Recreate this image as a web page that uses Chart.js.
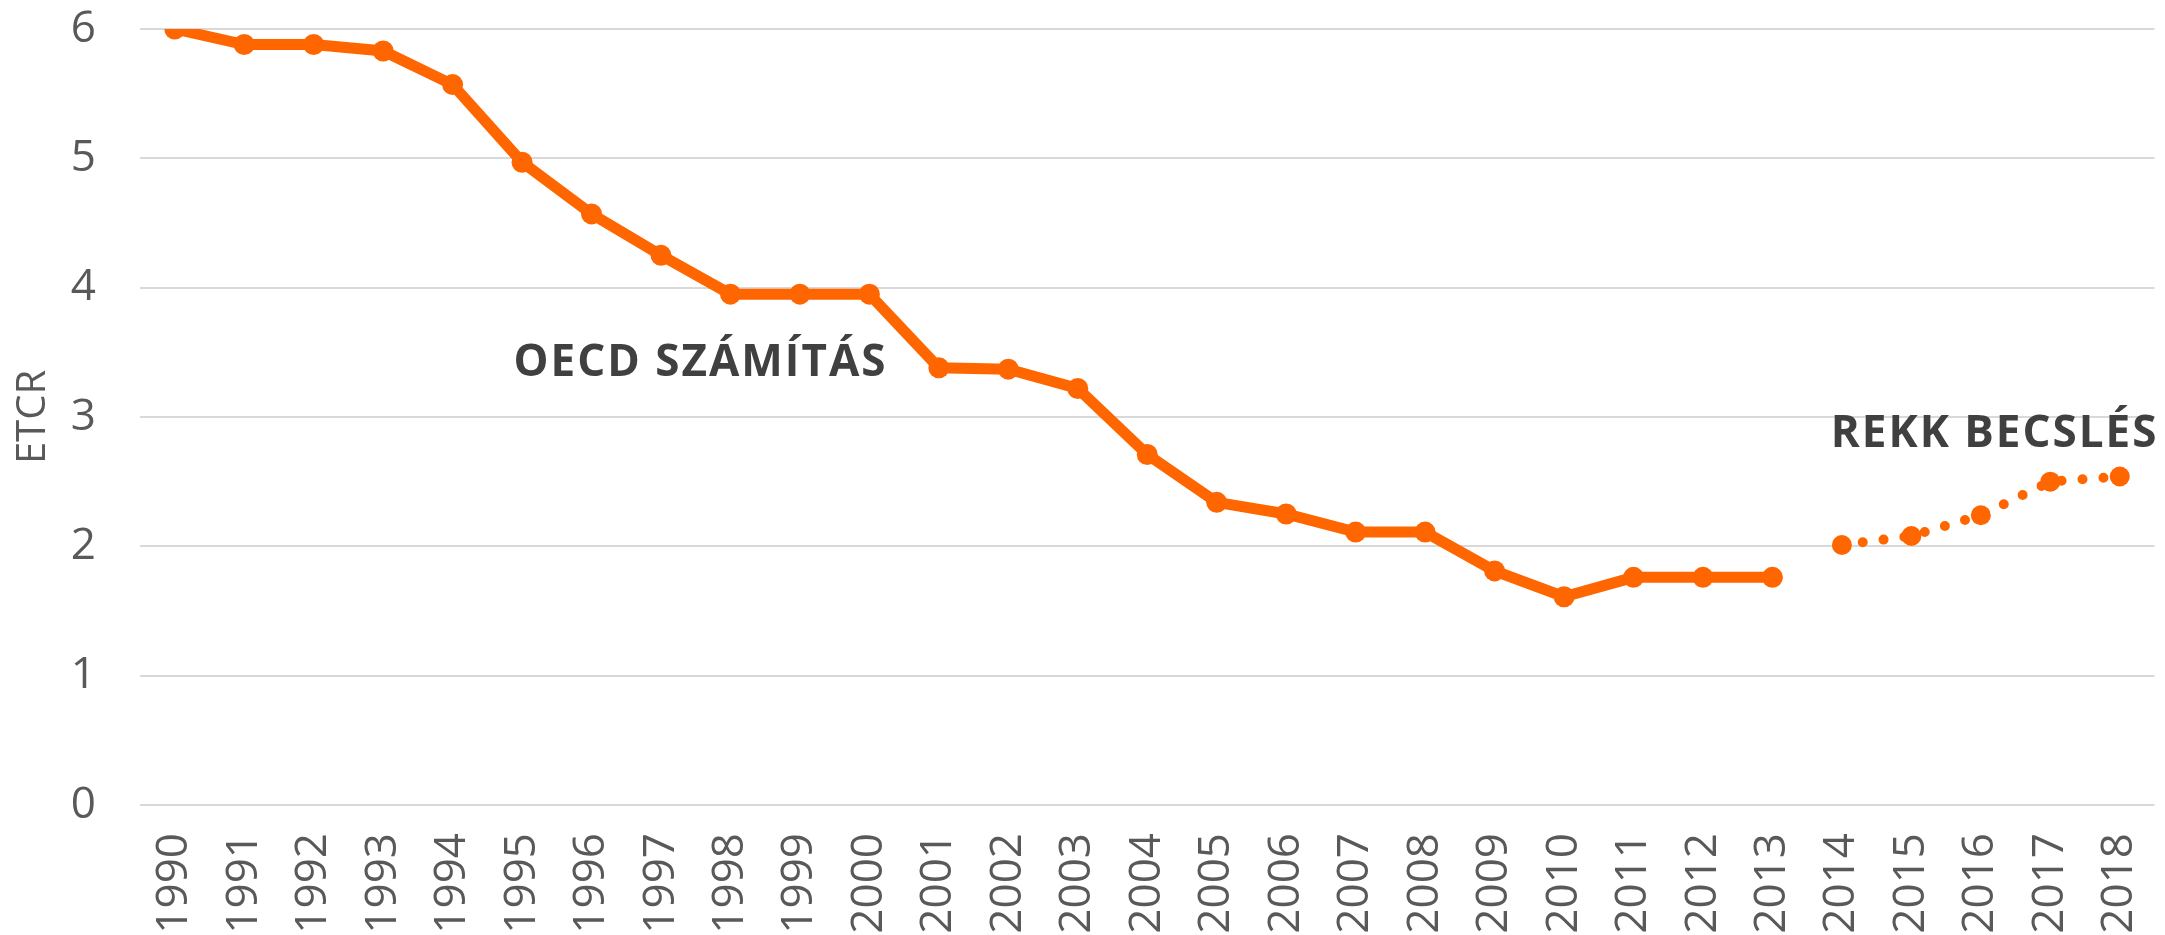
<!DOCTYPE html>
<html lang="hu">
<head>
    <meta charset="utf-8">
    <title>ETCR</title>
    <script src="https://cdn.jsdelivr.net/npm/chart.js"></script>
    <style>
        html, body { margin: 0; padding: 0; background: #fff; }
        .chart-container { position: relative; width: 2165px; height: 935px; }
    </style>
</head>
<body>
    <div class="chart-container">
        <canvas id="etcrChart"></canvas>
    </div>
    <script>
        // évek
        const years = ['1990', '1991', '1992', '1993', '1994', '1995', '1996', '1997', '1998', '1999',
            '2000', '2001', '2002', '2003', '2004', '2005', '2006', '2007', '2008', '2009',
            '2010', '2011', '2012', '2013', '2014', '2015', '2016', '2017', '2018'];
        // OECD számítás 1990-2013
        const oecdValues = [6.00, 5.88, 5.88, 5.83, 5.57, 4.97, 4.57, 4.25, 3.95, 3.95,
            3.95, 3.38, 3.37, 3.22, 2.71, 2.34, 2.25, 2.11, 2.11, 1.81,
            1.61, 1.76, 1.76, 1.76, null, null, null, null, null];
        // REKK becslés 2014-2018
        const rekkValues = [null, null, null, null, null, null, null, null, null, null,
            null, null, null, null, null, null, null, null, null, null,
            null, null, null, null, 2.01, 2.08, 2.24, 2.50, 2.54];
        const yTicks = [0, 1, 2, 3, 4, 5, 6];

        const orange = '#ff6600';
        const grey = '#595959';

        // feliratok a diagramon
        const labelPlugin = {
            id: 'labels',
            afterDatasetsDraw(chart) {
                const ctx = chart.ctx;
                const x = chart.scales.x;
                const y = chart.scales.y;
                ctx.save();
                ctx.fillStyle = '#404040';
                ctx.font = 'bold 44px "Open Sans"';
                ctx.letterSpacing = '2px';
                ctx.textBaseline = 'alphabetic';
                ctx.textAlign = 'left';
                ctx.fillText('OECD SZÁMÍTÁS', x.getPixelForValue(4) + 61, y.getPixelForValue(3.317));
                ctx.textAlign = 'right';
                ctx.fillText('REKK BECSLÉS', chart.chartArea.right + 4, y.getPixelForValue(2.77));
                ctx.restore();
            }
        };

        new Chart(document.getElementById('etcrChart'), {
            type: 'line',
            data: {
                labels: years,
                datasets: [{
                    label: 'OECD számítás',
                    data: oecdValues,
                    borderColor: orange,
                    backgroundColor: orange,
                    borderWidth: 11,
                    pointRadius: 10.5,
                    pointBorderWidth: 0,
                    tension: 0
                }, {
                    label: 'REKK becslés',
                    data: rekkValues,
                    borderColor: orange,
                    backgroundColor: orange,
                    borderWidth: 10,
                    borderDash: [0, 21],
                    borderCapStyle: 'round',
                    pointRadius: 10,
                    pointBorderWidth: 0,
                    tension: 0
                }]
            },
            options: {
                responsive: true,
                maintainAspectRatio: false,
                animation: false,
                layout: { padding: { top: 29, right: 10, left: 0, bottom: 0 } },
                plugins: {
                    legend: { display: false },
                    tooltip: { enabled: false }
                },
                scales: {
                    x: {
                        offset: true,
                        grid: { display: false, drawTicks: false },
                        border: { display: false },
                        ticks: {
                            color: grey,
                            font: { family: 'Open Sans', size: 44 },
                            minRotation: 90,
                            maxRotation: 90,
                            autoSkip: false,
                            padding: 28
                        },
                        afterFit(scale) {
                            scale.height = 130;
                            scale.paddingLeft = 0;
                            scale.paddingRight = 0;
                        }
                    },
                    y: {
                        min: 0,
                        max: 6,
                        afterBuildTicks(scale) { scale.ticks = yTicks.map(v => ({ value: v })); },
                        grid: { color: '#d9d9d9', lineWidth: 2, drawTicks: false },
                        border: { display: false },
                        ticks: {
                            color: grey,
                            font: { family: 'Open Sans', size: 44 },
                            padding: 44
                        },
                        title: {
                            display: true,
                            text: 'ETCR',
                            color: grey,
                            font: { family: 'Open Sans', size: 40 },
                            padding: { top: 10, bottom: 0 }
                        },
                        afterFit(scale) {
                            scale.width = 140;
                            scale.paddingTop = 0;
                            scale.paddingBottom = 0;
                        }
                    }
                }
            },
            plugins: [labelPlugin]
        });
    </script>
</body>
</html>
